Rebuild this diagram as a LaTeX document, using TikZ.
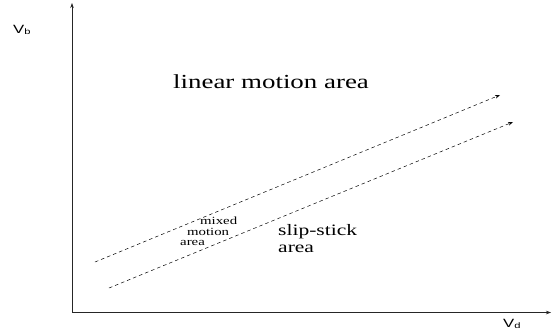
\documentclass[tikz,border=0pt]{standalone}
\usepackage{fontspec}
\setmainfont{Liberation Serif}
\newfontfamily\wideserif[FakeStretch=1.35]{Liberation Serif}
\newfontfamily\widesans[FakeStretch=1.4]{Liberation Sans}
\usetikzlibrary{arrows.meta}

\begin{document}
\begin{tikzpicture}[x=1bp, y=-1bp,
  axis/.style={-{Stealth[length=5bp,width=3.5bp]}, line width=0.6bp, black!85},
  bound/.style={-{Stealth[length=5bp,width=3.5bp]}, line width=0.5bp, dash pattern=on 3.5bp off 3bp},
  region/.style={inner sep=0pt, anchor=base west, align=left}
]
  \useasboundingbox (0,0) rectangle (558,334);

  % axes
  \coordinate (origin) at (72,312.5);
  \coordinate (ytip) at (72,3);
  \coordinate (xtip) at (551,312.5);
  \draw[axis] (origin) -- (ytip);
  \draw[axis] (origin) -- (xtip);
  \node[region, font=\widesans\fontsize{12}{14}\selectfont] (vb) at (13,33) {V\textsubscript{b}};
  \node[region, font=\widesans\fontsize{12}{14}\selectfont] (vd) at (503,327) {V\textsubscript{d}};

  % boundaries of the mixed band
  \coordinate (upstart) at (95,262);
  \coordinate (upend) at (500,95);
  \coordinate (lowstart) at (109,288);
  \coordinate (lowend) at (513,122);
  \draw[bound] (upstart) -- (upend);
  \draw[bound] (lowstart) -- (lowend);

  % areas
  \node[region, font=\wideserif\fontsize{20}{24}\selectfont] (linear) at (173,88) {linear motion area};
  \node[region, font=\wideserif\fontsize{16}{17}\selectfont] (slip) at (278,252) {slip-stick\\area};
  \node[region, font=\wideserif\fontsize{11}{13}\selectfont] (mixed) at (200,224) {mixed};
  \node[region, font=\wideserif\fontsize{11}{13}\selectfont] (motion) at (187,235) {motion};
  \node[region, font=\wideserif\fontsize{11}{13}\selectfont] (marea) at (180,245.5) {area};
\end{tikzpicture}
\end{document}
